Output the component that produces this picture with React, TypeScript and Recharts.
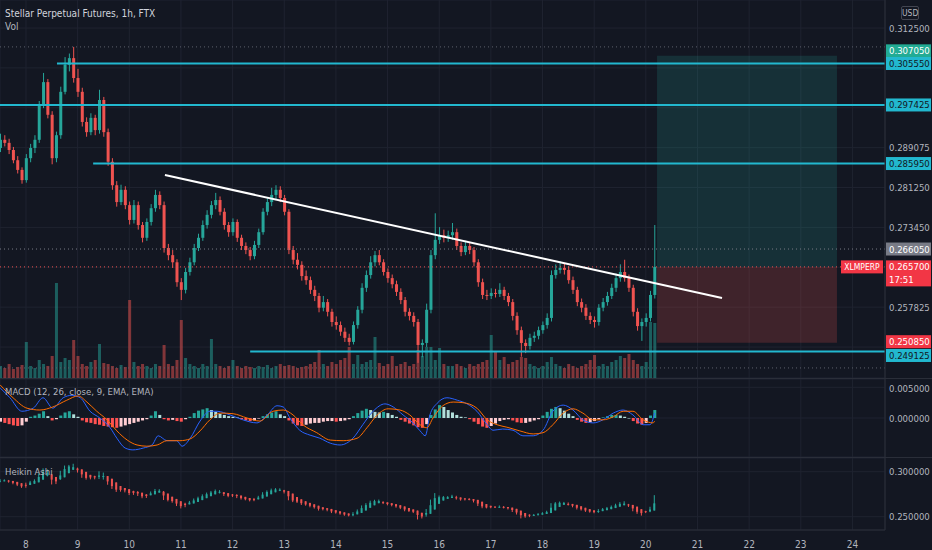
import React from 'react';
import {
  ComposedChart,
  Bar,
  Line,
  XAxis,
  YAxis,
  CartesianGrid,
  ReferenceLine,
  ReferenceArea,
} from 'recharts';

const BG = '#131722';
const GRID = '#1f2330';
const BORDER = '#2a2e39';
const TEXT = '#b2b5be';
const UP = '#26a69a';
const DOWN = '#ef5350';
const CYAN = '#22b8cf';
const FONT = '"Liberation Sans Narrow", "DejaVu Sans Condensed", Roboto, sans-serif';

const W = 932;
const AXIS_W = 47;
const M = { top: 0, right: 0, bottom: 0, left: 0 };

// 1h chart in 2h steps; first bar sits at the 7th, 12:00
const START = 7.5;
const STEP = 1 / 12;
const DAY_DOMAIN = [7.497, 24.63];
const dayTicks = [8, 9, 10, 11, 12, 13, 14, 15, 16, 17, 18, 19, 20, 21, 22, 23, 24];

const firstOpen = 0.289;
const closes = [
  0.2906, 0.29, 0.2886, 0.2866, 0.2847, 0.2827, 0.287, 0.289, 0.2906, 0.2974,
  0.3019, 0.2955, 0.287, 0.2915, 0.3, 0.3053, 0.3066, 0.3027, 0.3, 0.2941,
  0.2921, 0.2949, 0.2925, 0.2984, 0.2921, 0.2863, 0.2817, 0.2784, 0.2808, 0.2778,
  0.2749, 0.2778, 0.2739, 0.2714, 0.2745, 0.2772, 0.2798, 0.2778, 0.2694, 0.268,
  0.2666, 0.2627, 0.2612, 0.2647, 0.2666, 0.2694, 0.2714, 0.2739, 0.2759, 0.2778,
  0.2788, 0.2765, 0.2739, 0.2725, 0.2745, 0.2714, 0.2698, 0.269, 0.2678, 0.27,
  0.2725, 0.2765, 0.2784, 0.2798, 0.2808, 0.2792, 0.2765, 0.269, 0.2671, 0.2661,
  0.2639, 0.2631, 0.2612, 0.26, 0.2577, 0.2588, 0.2569, 0.2549, 0.2543, 0.253,
  0.2518, 0.251, 0.2543, 0.2573, 0.2616, 0.2641, 0.2666, 0.268, 0.2666, 0.2647,
  0.2635, 0.2623, 0.2608, 0.2592, 0.2569, 0.2561, 0.2549, 0.2504, 0.2508, 0.2573,
  0.268, 0.271, 0.2719, 0.2714, 0.2719, 0.2725, 0.2698, 0.2686, 0.2698, 0.269,
  0.2666, 0.2627, 0.2602, 0.26, 0.2606, 0.2604, 0.2612, 0.26, 0.2588, 0.2561,
  0.2533, 0.2508, 0.2502, 0.2518, 0.2522, 0.2533, 0.2543, 0.2557, 0.2641, 0.2651,
  0.2655, 0.2651, 0.2631, 0.2612, 0.2588, 0.2577, 0.2561, 0.2553, 0.2549, 0.2577,
  0.2588, 0.26, 0.2616, 0.2635, 0.2647, 0.2635, 0.2616, 0.2569, 0.2541, 0.2549,
  0.2557, 0.2602, 0.2657,
];
const highs = [
  0.2918, 0.2915, 0.2908, 0.2892, 0.2874, 0.2852, 0.2878, 0.2898, 0.2915, 0.2982,
  0.3037, 0.3025, 0.2962, 0.2922, 0.301, 0.3068, 0.3075, 0.3088, 0.3045, 0.3008,
  0.295, 0.2958, 0.2955, 0.3004, 0.299, 0.2928, 0.287, 0.2825, 0.2818, 0.2815,
  0.2785, 0.2788, 0.2785, 0.2745, 0.2752, 0.278, 0.2808, 0.2805, 0.2785, 0.2702,
  0.269, 0.2672, 0.2635, 0.2655, 0.2675, 0.2702, 0.2722, 0.2748, 0.2768, 0.2786,
  0.2802, 0.2795, 0.2772, 0.2745, 0.2752, 0.275, 0.272, 0.2705, 0.2696, 0.2708,
  0.2732, 0.2772, 0.2792, 0.2812, 0.2817, 0.2815, 0.2798, 0.277, 0.2698, 0.2684,
  0.2668, 0.265, 0.2638, 0.262, 0.2606, 0.26, 0.2594, 0.2575, 0.256, 0.255,
  0.2538, 0.2526, 0.255, 0.258, 0.2625, 0.265, 0.2678, 0.2688, 0.269, 0.2672,
  0.2654, 0.2642, 0.263, 0.2615, 0.2598, 0.2576, 0.2568, 0.2555, 0.2515, 0.2585,
  0.269, 0.2762, 0.2735, 0.273, 0.2728, 0.2743, 0.2732, 0.2705, 0.2708, 0.2706,
  0.2696, 0.2672, 0.2634, 0.2612, 0.2615, 0.2614, 0.2625, 0.2618, 0.2606, 0.2594,
  0.2568, 0.254, 0.2515, 0.2526, 0.253, 0.254, 0.255, 0.2566, 0.265, 0.2662,
  0.2668, 0.2664, 0.2658, 0.2638, 0.2618, 0.2595, 0.2584, 0.2568, 0.256, 0.2584,
  0.2596, 0.2608, 0.2624, 0.2644, 0.2662, 0.2671, 0.2642, 0.2622, 0.2576, 0.2556,
  0.2566, 0.261, 0.2739,
];
const lows = [
  0.2882, 0.2893, 0.2878, 0.286, 0.284, 0.282, 0.2822, 0.2862, 0.288, 0.29,
  0.2968, 0.2948, 0.2858, 0.2862, 0.2908, 0.2995, 0.304, 0.3018, 0.299, 0.2932,
  0.2912, 0.2915, 0.2915, 0.2918, 0.2912, 0.2855, 0.2808, 0.2775, 0.2778, 0.277,
  0.274, 0.2742, 0.273, 0.2705, 0.2708, 0.2738, 0.2765, 0.277, 0.2685, 0.267,
  0.2655, 0.2618, 0.2592, 0.2605, 0.264, 0.266, 0.2688, 0.2708, 0.2732, 0.2752,
  0.277, 0.2758, 0.273, 0.2716, 0.2718, 0.2706, 0.269, 0.2682, 0.267, 0.2672,
  0.2694, 0.272, 0.2758, 0.2776, 0.279, 0.2784, 0.2758, 0.2682, 0.2662, 0.2652,
  0.263, 0.2622, 0.2604, 0.259, 0.2568, 0.257, 0.256, 0.254, 0.2534, 0.2522,
  0.251, 0.2503, 0.2505, 0.2536, 0.2566, 0.2608, 0.2634, 0.2658, 0.266, 0.264,
  0.2626, 0.2615, 0.26, 0.2584, 0.256, 0.2552, 0.254, 0.2469, 0.248, 0.25,
  0.2566, 0.2672, 0.2702, 0.2705, 0.2706, 0.271, 0.269, 0.2678, 0.268, 0.2682,
  0.2658, 0.2618, 0.2594, 0.2592, 0.2594, 0.2597, 0.2598, 0.2592, 0.258, 0.2552,
  0.2524, 0.2481, 0.2488, 0.2495, 0.251, 0.2515, 0.2526, 0.2536, 0.255, 0.2634,
  0.2644, 0.2642, 0.2624, 0.2604, 0.258, 0.2568, 0.2553, 0.2545, 0.2538, 0.2542,
  0.257, 0.2581, 0.2594, 0.2608, 0.2628, 0.2628, 0.2608, 0.256, 0.2532, 0.2512,
  0.254, 0.255, 0.2595,
];
// volume, thousands
const volumes = [
  12, 10, 14, 9, 11, 13, 36, 12, 10, 18,
  14, 12, 22, 95, 16, 20, 18, 38, 22, 14,
  12, 16, 18, 34, 15, 14, 12, 10, 13, 11,
  78, 16, 12, 14, 12, 10, 14, 12, 33, 14,
  12, 18, 58, 20, 14, 12, 10, 14, 12, 39,
  14, 12, 10, 12, 18, 12, 10, 12, 11, 10,
  12, 11, 13, 10, 12, 14, 12, 13, 12, 10,
  11, 12, 14, 16, 28, 14, 12, 16, 14, 18,
  20, 31, 14, 23, 14, 16, 18, 41, 15, 12,
  14, 22, 12, 14, 16, 12, 14, 28, 22, 31,
  31, 18, 30, 14, 12, 12, 14, 12, 10, 14,
  12, 14, 16, 18, 43, 26, 18, 21, 14, 16,
  18, 21, 20, 14, 12, 10, 12, 16, 21, 14,
  12, 10, 14, 12, 10, 12, 14, 18, 23, 12,
  14, 12, 16, 18, 22, 20, 24, 18, 14, 12,
  16, 56, 55,
];

const macdHist = [
  -0.0006, -0.0008, -0.001, -0.0012, -0.0013, -0.0012, -0.0006, 0.0002, 0.0004, 0.0007,
  0.0011, 0.0003, -0.0004, -0.0002, 0.0004, 0.0009, 0.0011, 0.0006, 0.0002, -0.0004,
  -0.0007, -0.0008, -0.001, -0.0011, -0.0013, -0.0014, -0.0015, -0.0016, -0.0014, -0.0012,
  -0.001, -0.0008, -0.0006, -0.0004, -0.0002, 0.0004, 0.0011, 0.0005, -0.0002, -0.0004,
  -0.0003, -0.0005, -0.0006, -0.0002, 0.0002, 0.0008, 0.0012, 0.0014, 0.0016, 0.0013,
  0.001, 0.0007, 0.0005, 0.0003, 0.0002, 0.0001, -0.0002, -0.0004, -0.0005, -0.0004,
  -0.0001, 0.0003, 0.0006, 0.0009, 0.0011, 0.0006, 0.0003, -0.0004, -0.0009, -0.0012,
  -0.0013, -0.0011, -0.0009, -0.0008, -0.0008, -0.0006, -0.0005, -0.0005, -0.0006, -0.0005,
  -0.0004, -0.0002, 0.0003, 0.0008, 0.0012, 0.0015, 0.0013, 0.001, 0.0009, 0.001,
  0.0008, 0.0005, 0.0002, -0.0003, -0.0006, -0.0009, -0.0012, -0.0015, -0.0016, -0.001,
  0.0005, 0.0014, 0.0021, 0.0018, 0.0013, 0.0009, 0.0005, 0.0002, 0.0001, -0.0002,
  -0.0006, -0.001, -0.0014, -0.0016, -0.0013, -0.0009, -0.0005, -0.0003, -0.0002, -0.0004,
  -0.0007, -0.0008, -0.0008, -0.0006, -0.0004, -0.0002, 0.0004, 0.001, 0.0015, 0.0018,
  0.0016, 0.0012, 0.0007, 0.0003, -0.0003, -0.0006, -0.0008, -0.0007, -0.0005, -0.0002,
  0.0001, 0.0003, 0.0005, 0.0005, 0.0004, 0.0002, 0, -0.0005, -0.0009, -0.0011,
  -0.0008, 0.0004, 0.0013,
];
// [day, value]
const macdLine: [number, number][] = [
  [7.5, 0.0049], [7.69, 0.0033], [7.92, 0.0011], [8.14, 0.0016], [8.33, 0.0033], [8.52, 0.0016],
  [8.72, 0.0033], [8.89, 0.0037], [9.05, 0.0033], [9.24, 0.0011], [9.43, 0], [9.63, -0.0016],
  [9.76, -0.0033], [9.92, -0.0049], [10.07, -0.0052], [10.27, -0.0049], [10.44, -0.0044],
  [10.56, -0.0029], [10.73, -0.0037], [10.92, -0.0037], [11.02, -0.0046], [11.18, -0.0033],
  [11.37, -0.0005], [11.56, 0.0011], [11.7, 0.0011], [11.95, 0.0005], [12.2, -0.0003],
  [12.47, -0.0008], [12.67, 0.0005], [12.86, 0.002], [12.98, 0.0018], [13.11, 0], [13.3, -0.002],
  [13.5, -0.0028], [13.69, -0.0033], [13.89, -0.0041], [14.08, -0.0044], [14.33, -0.0033],
  [14.52, -0.0011], [14.72, 0.0011], [14.95, 0.0023], [15.11, 0.0018], [15.3, 0.0005],
  [15.49, -0.0008], [15.63, -0.0021], [15.73, -0.0029], [15.82, 0.0005], [15.96, 0.0024],
  [16.15, 0.0033], [16.35, 0.0029], [16.54, 0.0023], [16.73, 0.0011], [16.93, -0.0011],
  [17.04, -0.002], [17.23, -0.0018], [17.43, -0.002], [17.62, -0.0029], [17.82, -0.0029],
  [18.01, -0.002], [18.2, 0.0011], [18.4, 0.0021], [18.59, 0.0013], [18.78, -0.0003],
  [18.98, -0.0008], [19.17, -0.0003], [19.37, 0.0008], [19.56, 0.0013], [19.75, 0.0005],
  [19.95, -0.0011], [20.08, -0.0011], [20.17, 0.0008],
];
const signalLine: [number, number][] = [
  [7.5, 0.0054], [7.75, 0.0033], [8.02, 0.0016], [8.27, 0.0013], [8.52, 0.0018], [8.79, 0.0029],
  [9.01, 0.0036], [9.18, 0.0026], [9.37, 0.0011], [9.57, -0.0003], [9.76, -0.0021], [9.96, -0.0036],
  [10.15, -0.0044], [10.34, -0.0046], [10.54, -0.0044], [10.73, -0.0037], [10.98, -0.0037],
  [11.18, -0.0034], [11.37, -0.0021], [11.56, -0.0003], [11.76, 0.0008], [12.01, 0.0007],
  [12.28, 0], [12.53, -0.0005], [12.78, 0.0011], [12.98, 0.0013], [13.17, 0.0005], [13.36, -0.0011],
  [13.63, -0.0024], [13.89, -0.0036], [14.14, -0.0037], [14.41, -0.0033], [14.6, -0.0016],
  [14.8, 0.0005], [15.01, 0.0015], [15.24, 0.0013], [15.43, 0.0005], [15.63, -0.0011],
  [15.76, -0.0016], [15.88, 0], [16.07, 0.002], [16.27, 0.0026], [16.46, 0.0025], [16.73, 0.0016],
  [16.93, -0.0003], [17.12, -0.0011], [17.31, -0.0015], [17.56, -0.0021], [17.82, -0.0026],
  [18.01, -0.0024], [18.2, -0.0011], [18.4, 0.0008], [18.59, 0.0015], [18.78, 0.0008],
  [18.98, -0.0003], [19.17, -0.0003], [19.37, 0.0002], [19.56, 0.0011], [19.75, 0.0011],
  [19.95, -0.0003], [20.14, -0.0008], [20.17, -0.0005],
];

const PRICE_DOMAIN = [0.24393, 0.31799];
const priceTicks = [0.3125, 0.3046875, 0.296875, 0.2890625, 0.28125, 0.2734375, 0.265625, 0.2578125, 0.25];
const priceTickLabels = ['0.312500', '', '', '0.289075', '0.281250', '0.273450', '', '0.257825', ''];
const MACD_DOMAIN = [-0.00636, 0.00636];
const macdTicks = [-0.005, 0, 0.005];
const HA_DOMAIN = [0.2352, 0.3152];
const haTicks = [0.25, 0.3];

// drawn levels: [price, start day]
const levelLines: [number, number][] = [
  [0.30555, 8.6],
  [0.297425, 7.497],
  [0.28595, 9.3],
  [0.249125, 12.34],
];
const trendFrom = [10.69, 0.2837];
const trendTo = [21.475, 0.2596];
const position = { from: 20.217, to: 23.7, entry: 0.2657, target: 0.30705, stop: 0.25085 };
const markLine = 0.2692;
const rangeHigh = 0.3088;
const rangeLow = 0.2459;

const candles = closes.map((close, i) => {
  const open = i === 0 ? firstOpen : closes[i - 1];
  return {
    t: START + i * STEP,
    open,
    close,
    high: highs[i],
    low: lows[i],
    range: [lows[i], highs[i]],
    vol: volumes[i],
  };
});

const heikin: { t: number; open: number; close: number; range: number[] }[] = [];
candles.forEach((d, i) => {
  const close = (d.open + d.high + d.low + d.close) / 4;
  const open = i === 0 ? (d.open + d.close) / 2 : (heikin[i - 1].open + heikin[i - 1].close) / 2;
  heikin.push({
    t: d.t,
    open,
    close,
    range: [Math.min(d.low, open, close), Math.max(d.high, open, close)],
  });
});

const histData = macdHist.map((h, i) => {
  const prev = i === 0 ? h : macdHist[i - 1];
  let color;
  if (h >= 0) color = h >= prev ? '#26a69a' : '#b2dfdb';
  else color = h < prev ? '#ff5252' : '#ffcdd2';
  return { t: START + i * STEP, hist: h, color };
});
const macdPts = macdLine.map(([t, v]) => ({ t, v }));
const signalPts = signalLine.map(([t, v]) => ({ t, v }));

function Candle(props: any) {
  const { x, y, width, height, payload } = props;
  if (x == null || !payload) return null;
  const [lo, hi] = payload.range;
  const top = Math.min(y, y + height);
  const h = Math.abs(height);
  const k = hi > lo ? h / (hi - lo) : 0;
  const bodyTop = top + (hi - Math.max(payload.open, payload.close)) * k;
  const bodyBot = top + (hi - Math.min(payload.open, payload.close)) * k;
  const color = payload.close >= payload.open ? UP : DOWN;
  const cx = x + width / 2;
  return (
    <g>
      <line x1={cx} x2={cx} y1={top} y2={top + h} stroke={color} strokeWidth={1} />
      <rect x={x} y={bodyTop} width={width} height={Math.max(1, bodyBot - bodyTop)} fill={color} />
    </g>
  );
}

function VolBar(props: any) {
  const { x, y, width, height, payload } = props;
  if (x == null || !payload) return null;
  const up = payload.close >= payload.open;
  return (
    <rect
      x={x}
      y={Math.min(y, y + height)}
      width={width}
      height={Math.abs(height)}
      fill={up ? 'rgba(38,166,154,0.5)' : 'rgba(239,83,80,0.5)'}
    />
  );
}

function HistBar(props: any) {
  const { x, y, width, height, payload } = props;
  if (x == null || !payload) return null;
  return (
    <rect x={x} y={Math.min(y, y + height)} width={width} height={Math.max(0.5, Math.abs(height))} fill={payload.color} />
  );
}

function ScaleText({ x, y, text, fill, size = 9.5, anchor = 'start' }: any) {
  return (
    <text x={x} y={y} fill={fill} fontSize={size} textAnchor={anchor} style={{ fontFamily: FONT }}>
      {text}
    </text>
  );
}

function axisTick(labels?: (v: number) => string) {
  return (p: any) => {
    const text = labels ? labels(p.payload.value) : '';
    if (!text) return <g />;
    return <ScaleText x={W - AXIS_W + 4} y={p.y + 3.5} text={text} fill={TEXT} />;
  };
}

function badge(text: string, bg: string, fg: string, dy = 0, sub?: string, tag?: string) {
  return (p: any) => {
    const vb = p.viewBox;
    if (!vb) return null;
    const x = W - AXIS_W + 1;
    const y = vb.y + dy - 6.5;
    return (
      <g>
        {tag && (
          <g>
            <rect x={x - 45} y={y} width={42} height={13} fill={bg} />
            <ScaleText x={x - 24} y={y + 10} text={tag} fill={fg} size={8.5} anchor="middle" />
          </g>
        )}
        <rect x={x} y={y} width={45} height={sub ? 26 : 13} fill={bg} />
        <ScaleText x={x + 3} y={y + 10} text={text} fill={fg} />
        {sub && <ScaleText x={x + 3} y={y + 23} text={sub} fill={fg} />}
      </g>
    );
  };
}

const paneLabel: React.CSSProperties = {
  position: 'absolute',
  left: 5,
  fontSize: 9.5,
  color: TEXT,
  lineHeight: '12px',
  pointerEvents: 'none',
  whiteSpace: 'nowrap',
};

export default function App() {
  const fmt6 = (v: number) => (v < 0 ? '-' : '') + Math.abs(v).toFixed(6);
  return (
    <div style={{ width: W, height: 550, background: BG, position: 'relative', fontFamily: FONT, overflow: 'hidden' }}>
      <style>{'body{margin:0;background:#131722}'}</style>

      <ComposedChart width={W} height={378} data={candles} margin={M}>
        <CartesianGrid stroke={GRID} />
        <XAxis type="number" dataKey="t" domain={DAY_DOMAIN} ticks={dayTicks} hide allowDataOverflow />
        <XAxis xAxisId="vol" type="number" dataKey="t" domain={DAY_DOMAIN} hide allowDataOverflow />
        <YAxis
          orientation="right"
          width={AXIS_W}
          domain={PRICE_DOMAIN}
          ticks={priceTicks}
          allowDataOverflow
          tickLine={false}
          axisLine={{ stroke: BORDER }}
          tick={axisTick((v) => priceTickLabels[priceTicks.indexOf(v)] || '')}
        />
        <YAxis yAxisId="vol" hide domain={[0, 378]} />

        <ReferenceArea
          x1={position.from}
          x2={position.to}
          y1={position.entry}
          y2={position.target}
          fill="#26a69a"
          fillOpacity={0.18}
          stroke="none"
        />
        <ReferenceArea
          x1={position.from}
          x2={position.to}
          y1={position.stop}
          y2={position.entry}
          fill="#ef5350"
          fillOpacity={0.2}
          stroke="none"
        />

        <Bar
          xAxisId="vol"
          yAxisId="vol"
          dataKey="vol"
          barSize={3}
          shape={VolBar}
          isAnimationActive={false}
        />
        <Bar dataKey="range" barSize={3} shape={Candle} isAnimationActive={false} />

        <ReferenceLine y={rangeHigh} stroke="#5d606b" strokeDasharray="1 3" />
        <ReferenceLine y={rangeLow} stroke="#5d606b" strokeDasharray="1 3" />
        <ReferenceLine
          y={markLine}
          stroke="#787b86"
          strokeDasharray="1 3"
          label={badge('0.266050', '#787b86', '#ffffff')}
        />
        <ReferenceLine
          y={position.entry}
          stroke={DOWN}
          strokeDasharray="1 3"
          label={badge('0.265700', '#f23645', '#ffffff', 0, '17:51', 'XLMPERP')}
        />
        <ReferenceLine
          y={position.target}
          stroke="none"
          label={badge('0.307050', '#22ab94', '#ffffff', -5)}
        />
        <ReferenceLine y={position.stop} stroke="none" label={badge('0.250850', '#f23645', '#ffffff', -1)} />

        {levelLines.map(([price, from], i) => (
          <ReferenceLine
            key={i}
            segment={[
              { x: from, y: price },
              { x: DAY_DOMAIN[1], y: price },
            ]}
            stroke={CYAN}
            strokeWidth={2}
          />
        ))}
        {levelLines.map(([price], i) => (
          <ReferenceLine
            key={'b' + i}
            y={price}
            stroke="none"
            label={badge(price.toFixed(6), CYAN, '#131722', i === 3 ? 4 : 0)}
          />
        ))}

        <ReferenceLine
          segment={[
            { x: trendFrom[0], y: trendFrom[1] },
            { x: trendTo[0], y: trendTo[1] },
          ]}
          stroke="#ffffff"
          strokeWidth={2}
        />
      </ComposedChart>

      <div style={{ height: 1, background: BORDER }} />

      <ComposedChart width={W} height={78} data={histData} margin={M}>
        <CartesianGrid stroke={GRID} />
        <XAxis type="number" dataKey="t" domain={DAY_DOMAIN} ticks={dayTicks} hide allowDataOverflow />
        <XAxis xAxisId="lines" type="number" dataKey="t" domain={DAY_DOMAIN} hide allowDataOverflow />
        <YAxis
          orientation="right"
          width={AXIS_W}
          domain={MACD_DOMAIN}
          ticks={macdTicks}
          allowDataOverflow
          tickLine={false}
          axisLine={{ stroke: BORDER }}
          tick={axisTick(fmt6)}
        />
        <Bar dataKey="hist" barSize={3} shape={HistBar} isAnimationActive={false} />
        <Line
          xAxisId="lines"
          data={macdPts}
          dataKey="v"
          type="monotone"
          stroke="#2962ff"
          strokeWidth={1}
          dot={false}
          isAnimationActive={false}
        />
        <Line
          xAxisId="lines"
          data={signalPts}
          dataKey="v"
          type="monotone"
          stroke="#ff6d00"
          strokeWidth={1}
          dot={false}
          isAnimationActive={false}
        />
      </ComposedChart>

      <div style={{ height: 1, background: BORDER }} />

      <ComposedChart width={W} height={92} data={heikin} margin={M}>
        <CartesianGrid stroke={GRID} />
        <XAxis
          type="number"
          dataKey="t"
          domain={DAY_DOMAIN}
          ticks={dayTicks}
          allowDataOverflow
          height={20}
          tickLine={false}
          axisLine={{ stroke: BORDER }}
          tickMargin={5}
          tick={{ fill: TEXT, fontSize: 10, fontFamily: FONT }}
        />
        <YAxis
          orientation="right"
          width={AXIS_W}
          domain={HA_DOMAIN}
          ticks={haTicks}
          allowDataOverflow
          tickLine={false}
          axisLine={{ stroke: BORDER }}
          tick={axisTick(fmt6)}
        />
        <Bar dataKey="range" barSize={2} shape={Candle} isAnimationActive={false} />
      </ComposedChart>

      <div style={{ ...paneLabel, top: 8, fontSize: 10, color: '#d1d4dc' }}>Stellar Perpetual Futures, 1h, FTX</div>
      <div style={{ ...paneLabel, top: 21, fontSize: 10 }}>Vol</div>
      <div style={{ ...paneLabel, top: 386 }}>MACD (12, 26, close, 9, EMA, EMA)</div>
      <div style={{ ...paneLabel, top: 466 }}>Heikin Ashi</div>
      <div
        style={{
          position: 'absolute',
          left: 901,
          top: 6,
          width: 16,
          height: 12,
          border: '1px solid #434651',
          borderRadius: 2,
          fontSize: 8.5,
          lineHeight: '12px',
          textAlign: 'center',
          color: TEXT,
        }}
      >
        USD
      </div>
    </div>
  );
}
